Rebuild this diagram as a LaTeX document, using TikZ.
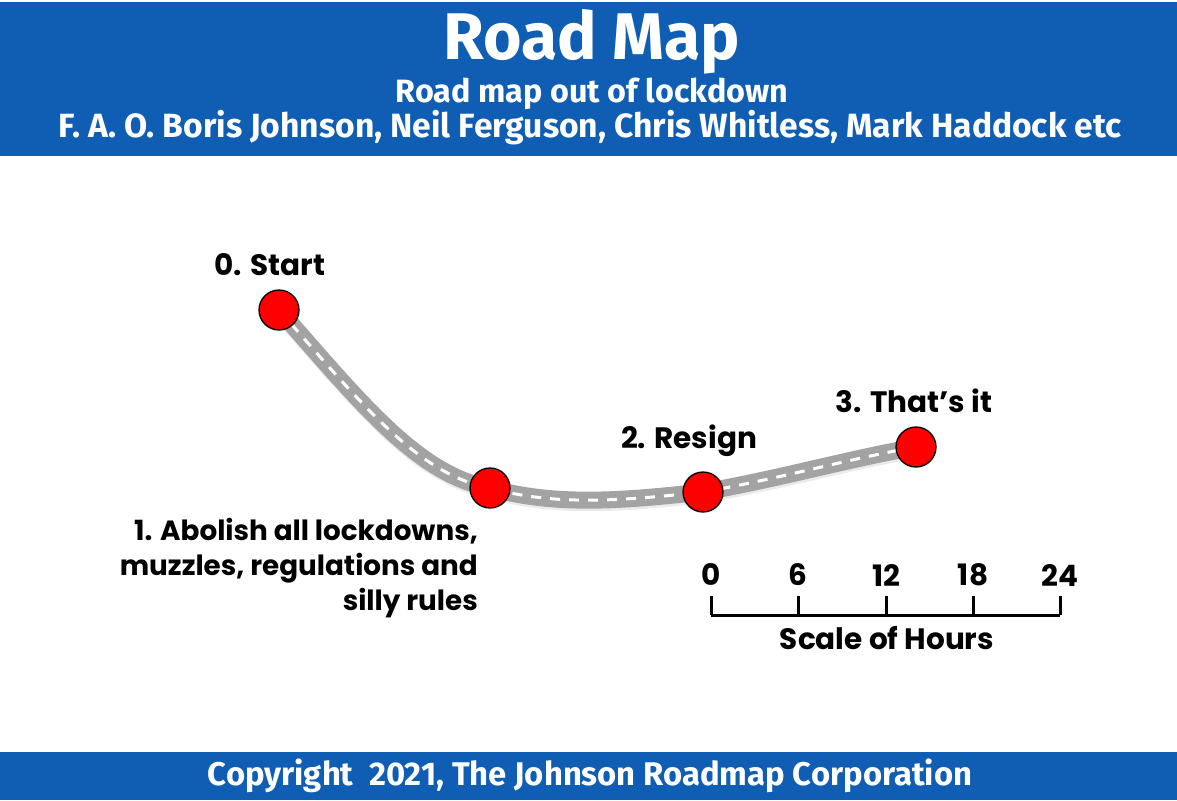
\documentclass[tikz,border=0pt]{standalone}
\usepackage{fontspec}
\setmainfont{Poppins}
\newfontfamily\hdrfont{Fira Sans}
\definecolor{bandblue}{HTML}{0F5EB4}
\definecolor{roadgray}{HTML}{A3A3A3}
\definecolor{dotred}{HTML}{FF0000}
\tikzset{
  band/.style={fill=bandblue, draw=none},
  stop/.style={circle, fill=dotred, draw=black, line width=1.3pt, minimum size=40pt, inner sep=0pt},
  lbl/.style={font=\fontsize{29.5}{35}\selectfont\bfseries, text=black, inner sep=0pt},
  hdr/.style={font=\hdrfont\bfseries, text=white, inner sep=0pt},
  tick/.style={line width=3pt, black},
}
\begin{document}
\begin{tikzpicture}[x=1pt,y=-1pt]
\useasboundingbox (0,0) rectangle (1177,800);
\fill[white] (0,0) rectangle (1177,800);
% header and footer bands
\fill[band] (0,2) rectangle (1177,156);
\fill[band] (0,752) rectangle (1177,800);
\node[hdr, font=\hdrfont\bfseries\fontsize{66}{70}\selectfont] (title) at (592,42) {Road Map};
\node[hdr, font=\hdrfont\bfseries\fontsize{32.3}{36}\selectfont] (sub) at (592,94) {Road map out of lockdown};
\node[hdr, font=\hdrfont\bfseries\fontsize{33.6}{36}\selectfont] (fao) at (590,128) {F. A. O. Boris Johnson, Neil Ferguson, Chris Whitless, Mark Haddock etc};
\node[hdr, font=\hdrfont\bfseries\fontsize{32.8}{36}\selectfont] (copy) at (590,776) {Copyright\ \ 2021, The Johnson Roadmap Corporation};
% stops
\coordinate (p0) at (279,310);
\coordinate (p1) at (490,488);
\coordinate (p2) at (703,492);
\coordinate (p3) at (916,447);
% road shadow
\draw[black!8, line width=18pt] ([shift={(1,2)}]p0) .. controls (361,404) and (419,477) .. ([shift={(1,2)}]p1) .. controls (559,509) and (629,502) .. ([shift={(1,2)}]p2) .. controls (779,481) and (849,461) .. ([shift={(1,2)}]p3);
\draw[roadgray, line width=17pt] (p0) .. controls (360,402) and (418,475) .. (p1) .. controls (558,507) and (628,500) .. (p2) .. controls (778,479) and (848,459) .. (p3);
\draw[white, line width=3pt, dash pattern=on 10pt off 9pt] (p0) .. controls (360,402) and (418,475) .. (p1) .. controls (558,507) and (628,500) .. (p2) .. controls (778,479) and (848,459) .. (p3);
\node[stop] (n0) at (p0) {};
\node[stop] (n1) at (p1) {};
\node[stop] (n2) at (p2) {};
\node[stop] (n3) at (p3) {};
% labels
\node[lbl] (l0) at (270,265) {0. Start};
\node[lbl, font=\fontsize{27.8}{35}\selectfont\bfseries, align=right, anchor=north east] (l1) at (478,518) {1. Abolish all lockdowns,\\muzzles, regulations and\\silly rules};
\node[lbl] (l2) at (689,441) {2. Resign};
\node[lbl] (l3) at (914,401) {3. That’s it};
% scale
\coordinate (s0) at (711,615);
\coordinate (s1) at (798,615);
\coordinate (s2) at (886,615);
\coordinate (s3) at (973,615);
\coordinate (s4) at (1060,615);
\draw[tick] (s0) -- (s4);
\foreach \i/\t in {0/0,1/6,2/12,3/18,4/24}{
  \draw[tick] (s\i) -- ++(0,-19);
  \node[lbl] (t\i) at ([shift={(0,-40)}]s\i) {\t};
}
\node[lbl] (scl) at (887,638) {Scale of Hours};
\end{tikzpicture}
\end{document}
